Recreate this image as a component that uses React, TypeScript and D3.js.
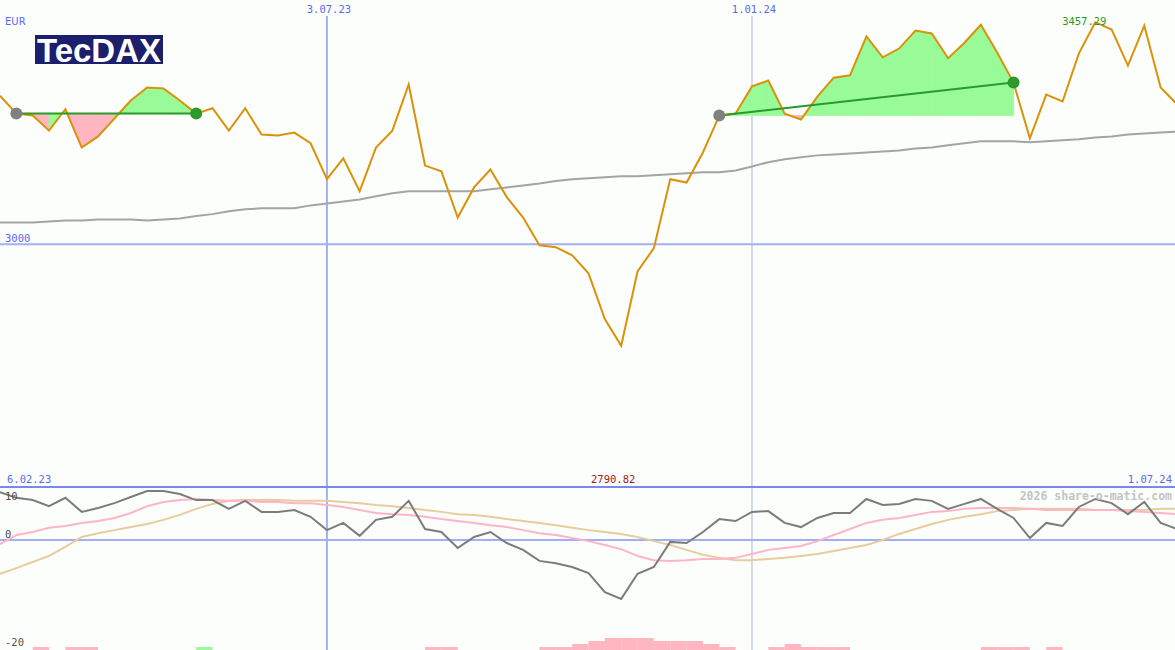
import React from "react";
import * as d3 from "d3";

// ---- data (weekly closes, TecDAX, EUR) ----
const START = new Date(2023, 1, 13);
const price = [
  3306, 3269, 3265, 3234, 3278, 3199, 3222, 3259, 3296, 3323,
  3321, 3296, 3269, 3280, 3234, 3280, 3226, 3224, 3230, 3208,
  3134, 3177, 3109, 3199, 3234, 3329, 3162, 3150, 3055, 3117,
  3154, 3097, 3055, 2998, 2994, 2977, 2940, 2846, 2790.82, 2944,
  2992, 3134, 3127, 3189, 3265, 3269, 3325, 3337, 3269, 3257,
  3304, 3343, 3348, 3428, 3385, 3403, 3440, 3434, 3383, 3415,
  3452, 3395, 3333, 3218, 3308, 3294, 3393, 3457.29, 3442, 3368,
  3450, 3323, 3288,
];
const ma = [
  3045, 3045, 3045, 3047, 3049, 3049, 3051, 3051, 3051, 3049,
  3051, 3053, 3058, 3062, 3068, 3072, 3074, 3074, 3074, 3080,
  3084, 3088, 3092, 3099, 3105, 3109, 3109, 3109, 3109, 3109,
  3113, 3117, 3121, 3125, 3130, 3134, 3136, 3138, 3140, 3140,
  3142, 3144, 3146, 3148, 3148, 3152, 3160, 3169, 3175, 3179,
  3183, 3185, 3187, 3189, 3191, 3193, 3197, 3199, 3204, 3208,
  3212, 3212, 3212, 3210, 3212, 3214, 3216, 3220, 3222, 3226,
  3228, 3230, 3232,
];
const momentum = [
  12.6, 11.1, 10.5, 8.9, 11.1, 7.4, 8.4, 9.7, 11.3, 12.9,
  12.9, 12.1, 10.5, 10.5, 8.2, 10.3, 7.4, 7.4, 7.9, 6.1,
  2.6, 4.5, 1.1, 5.3, 6.1, 10.3, 2.9, 2.1, -2.1, 0.8,
  2.1, -0.8, -2.6, -5.5, -6.1, -7.1, -8.7, -13.7, -15.5, -8.9,
  -7.1, -0.5, -0.8, 2.1, 5.5, 5.0, 7.4, 7.6, 4.5, 3.4,
  5.8, 7.1, 7.1, 10.8, 9.2, 9.5, 10.8, 10.3, 8.2, 9.5,
  10.8, 8.2, 5.8, 0.5, 4.5, 3.7, 8.7, 10.8, 9.7, 6.8,
  10.0, 4.5, 2.9,
];
const signalFast = [
  -1.1, 1.3, 2.1, 3.2, 3.7, 4.5, 5.0, 5.8, 7.1, 8.9,
  10.0, 10.5, 10.8, 10.5, 10.3, 10.3, 10.0, 10.0, 9.7, 9.7,
  9.2, 8.7, 7.9, 7.1, 6.8, 6.6, 6.1, 5.5, 5.0, 4.5,
  3.9, 3.4, 2.6, 1.8, 1.3, 0.5, -0.3, -1.3, -2.4, -4.2,
  -5.3, -5.5, -5.3, -5.0, -5.0, -4.7, -3.7, -2.6, -2.1, -1.6,
  -0.3, 1.3, 2.9, 4.5, 5.3, 5.8, 6.6, 7.4, 7.6, 8.2,
  8.4, 8.4, 8.4, 8.2, 7.9, 7.9, 7.9, 7.9, 7.9, 7.6,
  7.4, 7.1, 6.8,
];
const signalSlow = [
  -8.9, -7.4, -5.8, -4.2, -1.8, 0.8, 1.8, 2.6, 3.4, 4.2,
  5.3, 6.6, 8.2, 9.5, 10.3, 10.5, 10.5, 10.5, 10.3, 10.3,
  10.3, 10.0, 9.7, 9.2, 8.9, 8.4, 7.9, 7.4, 6.8, 6.6,
  6.1, 5.5, 5.0, 4.5, 3.9, 3.2, 2.6, 2.1, 1.6, 0.8,
  -0.3, -1.3, -2.6, -3.9, -4.7, -5.3, -5.3, -5.0, -4.7, -4.2,
  -3.7, -2.9, -2.1, -1.3, 0.0, 1.6, 2.9, 4.2, 5.3, 6.1,
  6.8, 7.6, 7.9, 8.2, 8.2, 8.2, 8.2, 7.9, 7.9, 7.9,
  7.9, 8.2, 8.2,
];
// histogram levels at bottom (negative = pink, positive = green)
const histIdx = [2, 4, 5, 12, 26, 27, 33, 34, 35, 36, 37, 38, 39, 40, 41, 42, 43, 44, 47, 48, 49, 50, 51, 60, 61, 62, 64];
const histVal = [-1, -1, -1, 1, -1, -1, -1, -1, -2, -3, -4, -4, -4, -3, -3, -3, -2, -1, -1, -2, -1, -1, -1, -1, -1, -1, -1];
// trend segments [startIndex, endIndex]
const trendStarts = [1, 44];
const trendEnds = [12, 62];
const tickDates = [new Date(2023, 6, 3), new Date(2024, 0, 1)];
const tickLabels = ["3.07.23", "1.01.24"];
const yTickValue = 3000;
const yTickLabel = "3000";
const lowerTickValues = [10, 0];
const lowerTickLabels = ["10", "0"];
const firstDateLabel = "6.02.23";
const lastDateLabel = "1.07.24";
const maxLabel = "3457.29";
const minLabel = "2790.82";

const W = 1175;
const H = 650;

export default function App() {
  const dates = price.map((_, i) => d3.timeDay.offset(START, 7 * i));
  const x = d3.scaleTime().domain([dates[0], dates[dates.length - 1]]).range([0, 1177]);
  const xi = (i: number) => x(dates[i]);
  const y = d3.scaleLinear().domain([2500, 3503]).range([487, 0]);
  const yl = d3.scaleLinear().domain([-20, 10]).range([616, 502]);
  const hh = d3.scaleLinear().domain([0, 4]).range([0, 12]);

  const priceLine = d3.line<number>().x((_, i) => xi(i)).y((d) => y(d));
  const lowerLine = d3.line<number>().x((_, i) => xi(i)).y((d) => yl(d));

  const maxI = price.indexOf(d3.max(price)!);
  const minI = price.indexOf(d3.min(price)!);

  // per-segment fills between price and the start level
  const fills: { d: string; fill: string }[] = [];
  trendStarts.forEach((s, k) => {
    const e = trendEnds[k];
    const base = price[s];
    for (let i = s; i < e; i++) {
      const area = d3
        .area<number>()
        .x((j) => xi(j))
        .y0(() => y(base))
        .y1((j) => y(price[j]));
      fills.push({ d: area([i, i + 1])!, fill: price[i + 1] >= base ? "#98fb98" : "#ffb6c1" });
    }
  });

  const mono = "'DejaVu Sans Mono', monospace";
  const sans = "'DejaVu Sans', sans-serif";

  return (
    <svg
      width={W}
      height={H}
      style={{ position: "fixed", left: 0, top: 0, background: "#fcfefc" }}
    >
      <rect x={0} y={0} width={W} height={H} fill="#fcfefc" />
      {/* grid */}
      <line x1={0} x2={W} y1={y(yTickValue)} y2={y(yTickValue)} stroke="#a4aef4" strokeWidth={2} />
      <line x1={0} x2={W} y1={yl(0)} y2={yl(0)} stroke="#a4aef4" strokeWidth={2} />
      <line x1={x(tickDates[0])} x2={x(tickDates[0])} y1={16} y2={H} stroke="#a4b0f4" strokeWidth={2} />
      <line x1={x(tickDates[1])} x2={x(tickDates[1])} y1={16} y2={H} stroke="#acb4e4" strokeWidth={1} />
      <line x1={0} x2={W} y1={487} y2={487} stroke="#7888ee" strokeWidth={2} />

      {/* fills */}
      {fills.map((f, i) => (
        <path key={i} d={f.d} fill={f.fill} stroke={f.fill} strokeWidth={0.8} />
      ))}

      {/* moving average */}
      <path d={priceLine(ma)!} fill="none" stroke="#a4a4a4" strokeWidth={2} />
      {/* price */}
      <path d={priceLine(price)!} fill="none" stroke="#d9920a" strokeWidth={2} />

      {/* trend lines and dots */}
      {trendStarts.map((s, k) => {
        const e = trendEnds[k];
        return (
          <g key={k}>
            <line x1={xi(s)} y1={y(price[s])} x2={xi(e)} y2={y(price[e])} stroke="#2a9a2a" strokeWidth={2} />
            <circle cx={xi(s)} cy={y(price[s])} r={6} fill="#808080" />
            <circle cx={xi(e)} cy={y(price[e])} r={6} fill="#2a9a2a" />
          </g>
        );
      })}

      {/* lower panel */}
      <path d={lowerLine(signalSlow)!} fill="none" stroke="#e6cd9c" strokeWidth={2} />
      <path d={lowerLine(signalFast)!} fill="none" stroke="#ffb4c8" strokeWidth={2} />
      <path d={lowerLine(momentum)!} fill="none" stroke="#7c7c7c" strokeWidth={2} />
      {histIdx.map((idx, k) => {
        const v = histVal[k];
        const h = hh(Math.abs(v));
        return (
          <rect
            key={k}
            x={xi(idx)}
            y={H - h}
            width={xi(idx + 1) - xi(idx)}
            height={h}
            fill={v > 0 ? "#98fb98" : "#ffb6c1"}
          />
        );
      })}

      {/* logo */}
      <rect x={35} y={35} width={128} height={29} fill="#1c1f6c" />
      <text
        x={37}
        y={62}
        fontFamily="'Liberation Sans', Arial, sans-serif"
        fontWeight="bold"
        fontSize={34}
        fill="#ffffff"
        textLength={124}
        lengthAdjust="spacingAndGlyphs"
      >
        TecDAX
      </text>

      {/* texts */}
      <text x={5} y={25} fontFamily={sans} fontSize={10} fill="#5a6af0">EUR</text>
      {tickDates.map((d, i) => (
        <text key={i} x={x(d) + 2} y={13} textAnchor="middle" fontFamily={mono} fontSize={10.5} fill="#5a6af0">
          {tickLabels[i]}
        </text>
      ))}
      <text x={5} y={y(yTickValue) - 2} fontFamily={mono} fontSize={10.5} fill="#5a6af0">{yTickLabel}</text>
      <text x={xi(maxI) - 11} y={25} textAnchor="middle" fontFamily={mono} fontSize={10.5} fill="#1e9a1e">{maxLabel}</text>
      <text x={7} y={483} fontFamily={mono} fontSize={10.5} fill="#5a6af0">{firstDateLabel}</text>
      <text x={xi(minI) - 8} y={483} textAnchor="middle" fontFamily={mono} fontSize={10.5} fill="#a01818">{minLabel}</text>
      <text x={1172} y={483} textAnchor="end" fontFamily={mono} fontSize={10.5} fill="#5a6af0">{lastDateLabel}</text>
      <text x={1172} y={500} textAnchor="end" fontFamily={mono} fontWeight="bold" fontSize={11.5} fill="#c4c4c4">
        2026 share-o-matic.com
      </text>
      {lowerTickValues.map((v, i) => (
        <text key={i} x={5} y={yl(v) - 2} fontFamily={mono} fontSize={10.5} fill="#505050">
          {lowerTickLabels[i]}
        </text>
      ))}
      <text x={5} y={646} fontFamily={mono} fontSize={10.5} fill="#505050">-20</text>
    </svg>
  );
}
